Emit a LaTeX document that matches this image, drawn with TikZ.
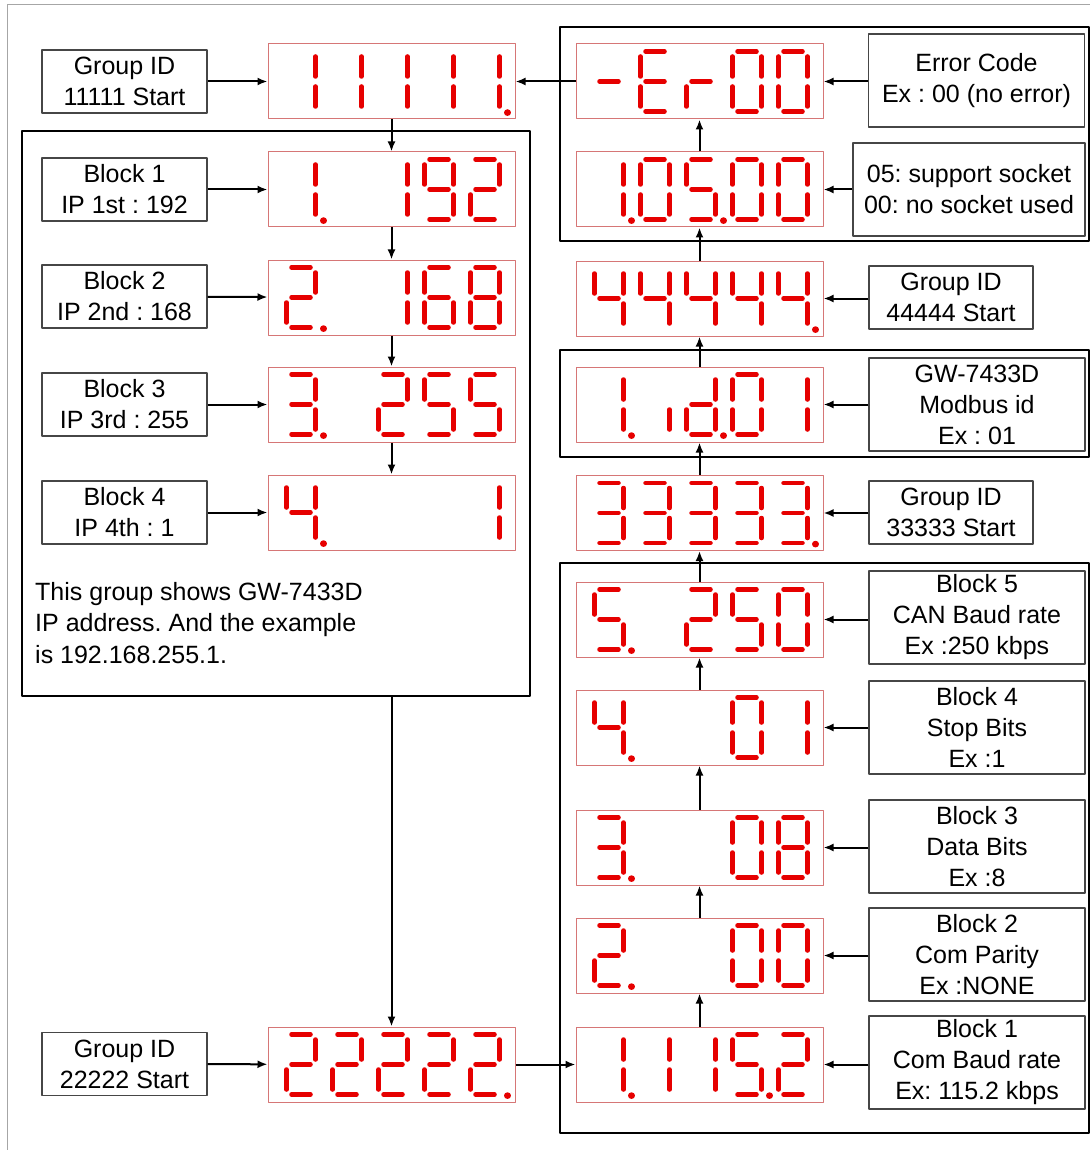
\documentclass[tikz,border=0pt]{standalone}
\usepackage{fontspec}
\setmainfont{Liberation Sans}
\frenchspacing
\usetikzlibrary{arrows.meta}

\definecolor{segred}{RGB}{230,0,0}
\definecolor{panelred}{RGB}{214,118,118}
\definecolor{boxgray}{RGB}{70,70,70}

\tikzset{
  segline/.style={draw=segred, line width=4.5pt, line cap=round},
  seg p/.style={line width=6.5pt},
  display/.style={draw=panelred, line width=1pt, minimum width=247pt, minimum height=75pt, inner sep=0pt},
  labelbox/.style={draw=boxgray, line width=1.2pt, minimum width=165pt, minimum height=63pt,
    inner sep=0pt, align=center, font=\fontsize{25}{31}\selectfont},
  notebox/.style={labelbox, minimum width=216pt, minimum height=93pt},
  groupframe/.style={draw=black, line width=1.3pt},
  link/.style={->, line width=2pt},
}

% one seven-segment digit: display node, position 1..5, segment list
\newcommand{\segdigit}[3]{%
  \begin{scope}[shift={(#1.east)}, xshift={-16pt-46pt*(5-#2)}]
    \coordinate (seg-a-1) at (-24,-30); \coordinate (seg-a-2) at (-5,-30);
    \coordinate (seg-b-1) at (0,-25);   \coordinate (seg-b-2) at (0,-5);
    \coordinate (seg-c-1) at (0,5);     \coordinate (seg-c-2) at (0,25);
    \coordinate (seg-d-1) at (-24,30);  \coordinate (seg-d-2) at (-5,30);
    \coordinate (seg-e-1) at (-29,5);   \coordinate (seg-e-2) at (-29,25);
    \coordinate (seg-f-1) at (-29,-25); \coordinate (seg-f-2) at (-29,-5);
    \coordinate (seg-g-1) at (-24,0);   \coordinate (seg-g-2) at (-5,0);
    \coordinate (seg-p-1) at (8,31);    \coordinate (seg-p-2) at (8,31.2);
    \foreach \s in {#3} {\draw[segline, seg \s/.try] (seg-\s-1) -- (seg-\s-2);}
  \end{scope}}

\begin{document}
\begin{tikzpicture}[x=1pt, y=-1pt, >={Latex[length=10pt,width=8pt]}, line join=round]
  \useasboundingbox (0,0) rectangle (1090,1150);

  % Outer sheet edge
  \draw[gray!70, line width=1pt] (7,1150) -- (7,5) -- (1090,5);

  % Group frames
  \draw[groupframe] (22,131) rectangle (530,696);
  \draw[groupframe] (560,27) rectangle (1089,241);
  \draw[groupframe] (560,350) rectangle (1089,457);
  \draw[groupframe] (560,563) rectangle (1089,1133);
  \coordinate (ipout) at (391.5,696);

  % Left column: labels
  \node[labelbox] (g11) at (124.5,81.5) {Group ID\\11111 Start};
  \node[labelbox] (ip1) at (124.5,189.5) {Block 1\\IP 1st : 192};
  \node[labelbox] (ip2) at (124.5,296.5) {Block 2\\IP 2nd : 168};
  \node[labelbox] (ip3) at (124.5,404.5) {Block 3\\IP 3rd : 255};
  \node[labelbox] (ip4) at (124.5,512.5) {Block 4\\IP 4th : 1};
  \node[labelbox] (g22) at (124.5,1064) {Group ID\\22222 Start};

  % Left column: displays
  \node[display] (dA) at (391.5,81.5) {};
  \node[display] (dB) at (391.5,189.5) {};
  \node[display] (dC) at (391.5,297.5) {};
  \node[display] (dD) at (391.5,404.5) {};
  \node[display] (dE) at (391.5,512.5) {};
  \node[display] (dF) at (391.5,1064.5) {};

  \node[anchor=north west, align=left, inner sep=0pt, font=\fontsize{25}{31.5}\selectfont] (ipnote) at (35,582)
    {This group shows GW-7433D\\IP address. And the example\\is 192.168.255.1.};

  % Right column: displays
  \node[display] (dEr) at (699.5,81.5) {};
  \node[display] (dSk) at (699.5,189.5) {};
  \node[display] (d44) at (699.5,298.5) {};
  \node[display] (dId) at (699.5,404.5) {};
  \node[display] (d33) at (699.5,513) {};
  \node[display] (dR5) at (699.5,619.5) {};
  \node[display] (dR4) at (699.5,727.5) {};
  \node[display] (dR3) at (699.5,847.5) {};
  \node[display] (dR2) at (699.5,955.5) {};
  \node[display] (dR1) at (699.5,1064.5) {};

  % Right column: labels
  \node[notebox] (nEr) at (976.5,80.5) {Error Code\\Ex : 00 (no error)};
  \node[notebox, minimum width=232pt] (nSk) at (969,189.5) {05: support socket\\00: no socket used};
  \node[labelbox, minimum width=164pt] (n44) at (951,297.5) {Group ID\\44444 Start};
  \node[notebox] (nId) at (977,404.5) {GW-7433D\\Modbus id\\Ex : 01};
  \node[labelbox, minimum width=164pt] (n33) at (951,512.5) {Group ID\\33333 Start};
  \node[notebox] (nB5) at (977,617.5) {Block 5\\CAN Baud rate\\Ex :250 kbps};
  \node[notebox] (nB4) at (977,727.5) {Block 4\\Stop Bits\\Ex :1};
  \node[notebox] (nB3) at (977,846.5) {Block 3\\Data Bits\\Ex :8};
  \node[notebox] (nB2) at (977,954.5) {Block 2\\Com Parity\\Ex :NONE};
  \node[notebox] (nB1) at (977,1062.5) {Block 1\\Com Baud rate\\Ex: 115.2 kbps};

  % Digits: 11111.
  \foreach \i in {1,...,5} {\segdigit{dA}{\i}{b,c}}
  \segdigit{dA}{5}{p}
  % 1.  192
  \segdigit{dB}{1}{b,c,p}
  \segdigit{dB}{3}{b,c}
  \segdigit{dB}{4}{a,b,c,d,f,g}
  \segdigit{dB}{5}{a,b,g,e,d}
  % 2.  168
  \segdigit{dC}{1}{a,b,g,e,d,p}
  \segdigit{dC}{3}{b,c}
  \segdigit{dC}{4}{a,f,g,e,d,c}
  \segdigit{dC}{5}{a,b,c,d,e,f,g}
  % 3.  255
  \segdigit{dD}{1}{a,b,g,c,d,p}
  \segdigit{dD}{3}{a,b,g,e,d}
  \segdigit{dD}{4}{a,f,g,c,d}
  \segdigit{dD}{5}{a,f,g,c,d}
  % 4.    1
  \segdigit{dE}{1}{f,g,b,c,p}
  \segdigit{dE}{5}{b,c}
  % 22222.
  \foreach \i in {1,...,5} {\segdigit{dF}{\i}{a,b,g,e,d}}
  \segdigit{dF}{5}{p}

  % -Er00
  \segdigit{dEr}{1}{g}
  \segdigit{dEr}{2}{a,d,e,f,g}
  \segdigit{dEr}{3}{e,g}
  \segdigit{dEr}{4}{a,b,c,d,e,f}
  \segdigit{dEr}{5}{a,b,c,d,e,f}
  % 1.05.00
  \segdigit{dSk}{1}{b,c,p}
  \segdigit{dSk}{2}{a,b,c,d,e,f}
  \segdigit{dSk}{3}{a,f,g,c,d,p}
  \segdigit{dSk}{4}{a,b,c,d,e,f}
  \segdigit{dSk}{5}{a,b,c,d,e,f}
  % 44444.
  \foreach \i in {1,...,5} {\segdigit{d44}{\i}{f,g,b,c}}
  \segdigit{d44}{5}{p}
  % 1. id.0 1
  \segdigit{dId}{1}{b,c,p}
  \segdigit{dId}{2}{c}
  \segdigit{dId}{3}{b,c,d,e,g,p}
  \segdigit{dId}{4}{a,b,c,d,e,f}
  \segdigit{dId}{5}{b,c}
  % 33333.
  \foreach \i in {1,...,5} {\segdigit{d33}{\i}{a,b,g,c,d}}
  \segdigit{d33}{5}{p}
  % 5.  250
  \segdigit{dR5}{1}{a,f,g,c,d,p}
  \segdigit{dR5}{3}{a,b,g,e,d}
  \segdigit{dR5}{4}{a,f,g,c,d}
  \segdigit{dR5}{5}{a,b,c,d,e,f}
  % 4.   01
  \segdigit{dR4}{1}{f,g,b,c,p}
  \segdigit{dR4}{4}{a,b,c,d,e,f}
  \segdigit{dR4}{5}{b,c}
  % 3.   08
  \segdigit{dR3}{1}{a,b,g,c,d,p}
  \segdigit{dR3}{4}{a,b,c,d,e,f}
  \segdigit{dR3}{5}{a,b,c,d,e,f,g}
  % 2.   00
  \segdigit{dR2}{1}{a,b,g,e,d,p}
  \segdigit{dR2}{4}{a,b,c,d,e,f}
  \segdigit{dR2}{5}{a,b,c,d,e,f}
  % 1.115.2
  \segdigit{dR1}{1}{b,c,p}
  \segdigit{dR1}{2}{b,c}
  \segdigit{dR1}{3}{b,c}
  \segdigit{dR1}{4}{a,f,g,c,d,p}
  \segdigit{dR1}{5}{a,b,g,e,d}

  % Left arrows
  \draw[link] (g11) -- (dA);
  \draw[link] (ip1) -- (dB);
  \draw[link] (ip2) -- (dC);
  \draw[link] (ip3) -- (dD);
  \draw[link] (ip4) -- (dE);
  \draw[link] (g22) -- (dF);
  \draw[link] (dA) -- (dB);
  \draw[link] (dB) -- (dC);
  \draw[link] (dC) -- (dD);
  \draw[link] (dD) -- (dE);
  \draw[link] (ipout) -- (dF);
  \draw[link] (dF) -- (dR1);

  % Right arrows, going up
  \draw[link] (dR1) -- (dR2);
  \draw[link] (dR2) -- (dR3);
  \draw[link] (dR3) -- (dR4);
  \draw[link] (dR4) -- (dR5);
  \draw[link] (dR5) -- (d33);
  \draw[link] (d33) -- (dId);
  \draw[link] (dId) -- (d44);
  \draw[link] (d44) -- (dSk);
  \draw[link] (dSk) -- (dEr);
  \draw[link] (dEr) -- (dA);

  % Labels into right displays
  \draw[link] (nEr.west |- dEr) -- (dEr);
  \draw[link] (nSk.west |- dSk) -- (dSk);
  \draw[link] (n44.west |- d44) -- (d44);
  \draw[link] (nId.west |- dId) -- (dId);
  \draw[link] (n33.west |- d33) -- (d33);
  \draw[link] (nB5.west |- dR5) -- (dR5);
  \draw[link] (nB4.west |- dR4) -- (dR4);
  \draw[link] (nB3.west |- dR3) -- (dR3);
  \draw[link] (nB2.west |- dR2) -- (dR2);
  \draw[link] (nB1.west |- dR1) -- (dR1);
\end{tikzpicture}
\end{document}
